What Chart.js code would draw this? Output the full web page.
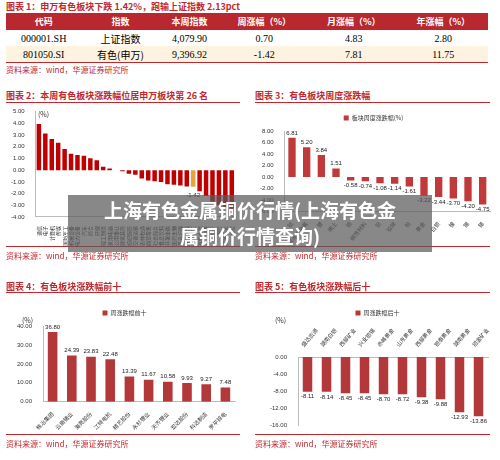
<!DOCTYPE html>
<html><head><meta charset="utf-8">
<script src="https://cdn.jsdelivr.net/npm/chart.js@4"></script>
<style>
body{margin:0;width:500px;height:460px;background:#fff;font-family:"Noto Sans CJK SC",sans-serif;position:relative;overflow:hidden}
.t{position:absolute;font-size:9px;color:#c0282d;font-weight:bold;white-space:nowrap}
.ln{position:absolute;height:1px;background:#c0282d}
.src{position:absolute;font-size:8px;color:#c0282d;white-space:nowrap}
.c{position:absolute}
table{position:absolute;left:6px;top:13px;width:482px;border-collapse:collapse;font-size:9px;text-align:center}
th{background:#b8282e;color:#fff;font-weight:bold;height:17px;padding:0}
td{height:16px;padding:0;font-family:"Liberation Serif",serif;font-size:10px}
#ban{position:absolute;left:68px;top:195px;width:364px;height:55px;background:rgba(90,90,90,0.72);color:#fff;font-weight:bold;font-size:19px;text-align:center;line-height:26px;padding-top:2px}
</style></head><body>
<div class="t" style="left:6px;top:0px">图表 1：申万有色板块下跌 1.42%，跑输上证指数 2.13pct</div>
<table>
<tr><th>代码</th><th>指数</th><th>本周指数</th><th>周涨幅（%）</th><th>月涨幅（%）</th><th>年涨幅（%）</th></tr>
<tr><td>000001.SH</td><td style="font-family:'Noto Sans CJK SC'">上证指数</td><td>4,079.90</td><td>0.70</td><td>4.83</td><td>2.80</td></tr>
<tr style="background:#fdf3e0;border-bottom:1px solid #c0282d"><td>801050.SI</td><td style="font-family:'Noto Sans CJK SC'">有色(申万)</td><td>9,396.92</td><td>-1.42</td><td>7.81</td><td>11.75</td></tr>
</table>
<div class="src" style="left:6px;top:64px">资料来源：wind，华源证券研究所</div>

<div class="t" style="left:6px;top:89px">图表 2：本周有色板块涨跌幅位居申万板块第 26 名</div>
<div class="ln" style="left:6px;top:102px;width:234px"></div>
<div class="c" style="left:0;top:105px;width:245px;height:142px"><canvas id="c2"></canvas></div>
<div class="ln" style="left:6px;top:246px;width:234px"></div>
<div class="src" style="left:6px;top:250px">资料来源：wind，华源证券研究所</div>

<div class="t" style="left:255px;top:89px">图表 3：有色板块周度涨跌幅</div>
<div class="ln" style="left:255px;top:102px;width:235px"></div>
<div class="c" style="left:253px;top:105px;width:245px;height:142px"><canvas id="c3"></canvas></div>
<div class="ln" style="left:255px;top:246px;width:235px"></div>
<div class="src" style="left:255px;top:250px">资料来源：wind，华源证券研究所</div>

<div class="t" style="left:6px;top:280px">图表 4：有色板块涨跌幅前十</div>
<div class="ln" style="left:6px;top:292px;width:234px"></div>
<div class="c" style="left:0;top:300px;width:245px;height:132px"><canvas id="c4"></canvas></div>
<div class="ln" style="left:6px;top:434px;width:234px"></div>
<div class="src" style="left:6px;top:438px">资料来源：wind，华源证券研究所</div>

<div class="t" style="left:255px;top:280px">图表 5：有色板块涨跌幅后十</div>
<div class="ln" style="left:255px;top:292px;width:235px"></div>
<div class="c" style="left:253px;top:300px;width:245px;height:132px"><canvas id="c5"></canvas></div>
<div class="ln" style="left:255px;top:434px;width:235px"></div>
<div class="src" style="left:255px;top:438px">资料来源：wind，华源证券研究所</div>

<div id="ban">上海有色金属铜价行情(上海有色金<br>属铜价行情查询)</div>
<script>
const sw2Labels=["通信","电子","计算机","传媒","国防军工","机械设备","电力设备","汽车","综合","环保","轻工制造","家用电器","公用事业","建筑装饰","纺织服饰","交通运输","农林牧渔","商贸零售","社会服务","食品饮料","非银金融","医药生物","美容护理","建筑材料","基础化工","有色金属","钢铁","房地产","银行","石油石化","煤炭"];
const sw2Values=[3.95,3.12,2.65,2.35,1.80,1.40,1.30,1.22,1.02,0.85,0.30,0.15,0.00,-0.10,-0.30,-0.40,-0.72,-0.88,-0.95,-1.02,-1.20,-1.25,-1.32,-1.40,-1.42,-1.80,-2.20,-2.70,-3.05,-3.25,-3.30];
const sub3Labels=["钴","其他小金属","锂","稀土","铜","磁性材料","铝","铅锌","钨","黄金","白银","镍","锡","锑"];
const sub3Values=[6.81,5.20,3.84,1.51,-0.58,-0.74,-1.08,-1.14,-1.61,-3.22,-3.44,-3.70,-4.20,-4.75];
const top4Labels=["株冶集团","云南锗业","海亮股份","江特电机","精艺股份","永杉锂业","天齐锂业","宏达股份","科达制造","罗平锌电"];
const top4Values=[36.80,24.39,23.83,22.48,13.39,11.67,10.58,9.93,9.27,7.48];
const bot5Labels=["盛达资源","湖南白银","西部矿业","兴业银锡","赤峰黄金","山东黄金","西部黄金","银泰黄金","湖南黄金","招金矿业"];
const bot5Values=[-8.11,-8.14,-8.45,-8.45,-8.70,-8.72,-9.38,-9.88,-12.93,-13.86];

Chart.defaults.animation=false;
Chart.defaults.font.family="Noto Sans CJK SC";
Chart.defaults.font.size=6;
Chart.defaults.color="#333";
const lab={id:'lab',afterDatasetsDraw(ch,a,o){if(!o.show)return;const ctx=ch.ctx;const m=ch.getDatasetMeta(0);const d=ch.data.datasets[0].data;ctx.save();ctx.font="6px 'Liberation Sans'";ctx.fillStyle="#222";ctx.textAlign="center";
m.data.forEach((b,i)=>{if(o.only!=null&&i!==o.only)return;const v=d[i];ctx.textBaseline=v>=0?'bottom':'top';ctx.fillText(v.toFixed(2),b.x,v>=0?b.y-2:b.y+(o.off||2));});ctx.restore();}};
const pctTitle={id:'pct',afterDraw(ch,a,o){if(!o.show)return;const c=ch.ctx;c.save();c.font="7px 'Noto Sans CJK SC'";c.fillStyle="#333";c.fillText("(%)",o.x,o.y);c.restore();}};
function mk(id,labels,values,colors,o){
 return new Chart(document.getElementById(id),{type:'bar',plugins:[lab,pctTitle],
 data:{labels,datasets:[{label:o.legend||'',data:values,backgroundColor:colors,barPercentage:o.bp||0.6,categoryPercentage:1}]},
 options:{responsive:true,maintainAspectRatio:false,layout:{padding:o.pad||0},
 plugins:{legend:{display:!!o.legend,labels:{boxWidth:5,boxHeight:5,font:{size:6}}},tooltip:{enabled:false},lab:o.lab,pct:o.pct},
 scales:{x:{position:o.xpos||'bottom',grid:{display:false},border:{color:'#bbb'},ticks:{autoSkip:false,maxRotation:o.rot,minRotation:o.rot,font:{size:o.xfs||5.5},padding:1}},
 y:{min:o.min,max:o.max,grid:{display:false},border:{color:'#bbb'},ticks:{stepSize:o.step,font:{size:6,family:'Liberation Sans'},callback:v=>Number(v).toFixed(2)}}}}});
}
mk('c2',sw2Labels,sw2Values,sw2Values.map((v,i)=>i===24?'#e8a33a':'#c00000'),{min:-4,max:5,step:1,rot:90,bp:0.7,xfs:5,pad:{top:4,left:8,right:10},lab:{show:true,only:24,off:6},pct:{show:true,x:38,y:12}});
mk('c3',sub3Labels,sub3Values,'#c0393b',{min:-6,max:8,step:2,rot:50,bp:0.5,legend:'板块周度涨跌幅(%)',pad:{left:4,right:8},lab:{show:true}});
mk('c4',top4Labels,top4Values,'#b3383a',{min:0,max:40,step:5,rot:45,bp:0.5,legend:'周涨跌幅前十',pad:{left:14,right:10},lab:{show:true},pct:{show:true,x:22,y:20}});
mk('c5',bot5Labels,bot5Values,'#b3383a',{min:-16,max:0,step:2,rot:50,bp:0.5,legend:'周涨跌幅后十',xpos:'top',pad:{left:14,right:10},lab:{show:true},pct:{show:true,x:22,y:20}});
</script></body></html>
